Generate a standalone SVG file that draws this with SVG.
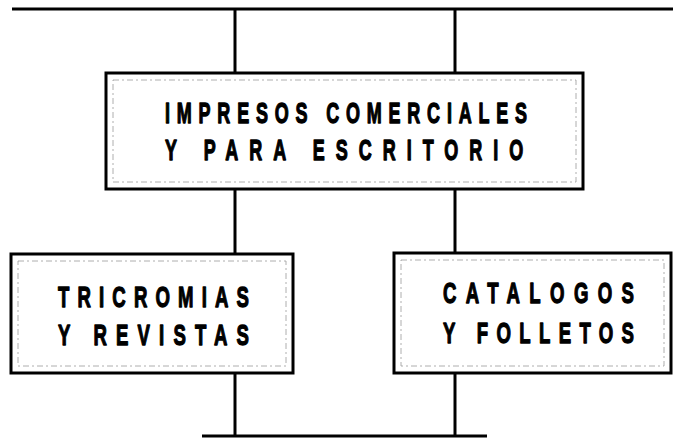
<svg xmlns="http://www.w3.org/2000/svg" width="673" height="439" viewBox="0 0 673 439">
<style>
.frame{fill:#fff;stroke:#000;stroke-width:3}
.inner{fill:none;stroke:#999;stroke-width:0.8;stroke-dasharray:6 3 2 3}
.line{stroke:#000;stroke-width:3;fill:none;stroke-linecap:butt}
.lbl{font-family:"Liberation Sans",Arial,sans-serif;font-weight:bold;fill:#000;stroke:#000;stroke-width:1.3;stroke-linejoin:round}
</style>
<rect width="673" height="439" fill="#fff"/>
<g id="connectors">
<line class="line" x1="12" y1="9" x2="673" y2="9"/>
<line class="line" x1="235" y1="9" x2="235" y2="73"/>
<line class="line" x1="455" y1="9" x2="455" y2="73"/>
<line class="line" x1="235" y1="190" x2="235" y2="254"/>
<line class="line" x1="455" y1="190" x2="455" y2="253"/>
<line class="line" x1="235" y1="373" x2="235" y2="436"/>
<line class="line" x1="455" y1="373" x2="455" y2="436"/>
<line class="line" x1="202" y1="436" x2="487" y2="436"/>
</g>
<g id="node-impresos">
<rect class="frame" x="106" y="73" width="477" height="116"/>
<rect class="inner" x="113" y="80" width="463" height="102"/>
<text class="lbl" font-size="29" transform="translate(165,123) scale(0.62,1)" textLength="584" lengthAdjust="spacing">IMPRESOS COMERCIALES</text>
<text class="lbl" font-size="29" transform="translate(165,160) scale(0.62,1)" textLength="578" lengthAdjust="spacing">Y PARA ESCRITORIO</text>
</g>
<g id="node-tricromias">
<rect class="frame" x="11" y="254" width="282" height="119"/>
<rect class="inner" x="18" y="261" width="268" height="105"/>
<text class="lbl" font-size="30" transform="translate(58,307) scale(0.62,1)" textLength="308" lengthAdjust="spacing">TRICROMIAS</text>
<text class="lbl" font-size="30" transform="translate(58,345) scale(0.62,1)" textLength="308" lengthAdjust="spacing">Y REVISTAS</text>
</g>
<g id="node-catalogos">
<rect class="frame" x="394" y="253" width="277" height="120"/>
<rect class="inner" x="401" y="260" width="263" height="106"/>
<text class="lbl" font-size="30" transform="translate(443,303) scale(0.62,1)" textLength="308" lengthAdjust="spacing">CATALOGOS</text>
<text class="lbl" font-size="30" transform="translate(443,343) scale(0.62,1)" textLength="308" lengthAdjust="spacing">Y FOLLETOS</text>
</g>
</svg>
